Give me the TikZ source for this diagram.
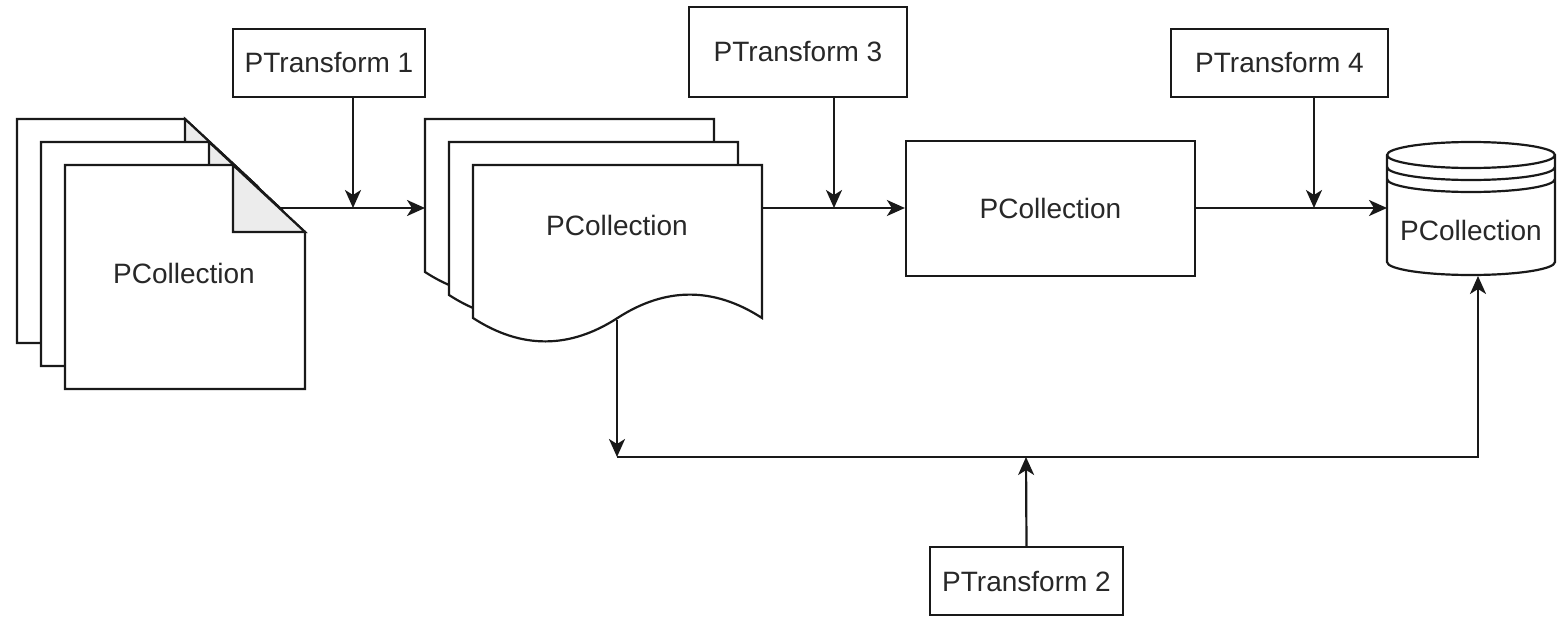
\documentclass[tikz,border=0pt]{standalone}
\usepackage{fontspec}
\setmainfont{Liberation Sans}
\usetikzlibrary{arrows.meta}
\definecolor{ln}{RGB}{25,25,25}
\definecolor{tx}{RGB}{40,40,40}
\definecolor{foldc}{RGB}{236,236,236}
\begin{document}
\begin{tikzpicture}[x=1pt,y=-1pt,
  shp/.style={draw=ln, line width=2.2pt, fill=white, line join=miter},
  lbl/.style={text=tx, font=\fontsize{28}{34}\selectfont, inner sep=0pt},
  tbox/.style={shp, lbl, minimum width=#1, minimum height=68pt},
  conn/.style={draw=ln, line width=2.2pt, -{Stealth[length=18pt,width=16pt,inset=5pt]}},
  plain/.style={draw=ln, line width=2.2pt},
  dogpage/.pic={
    \path[shp] (0,0) -- (168,0) -- (240,67) -- (240,224) -- (0,224) -- cycle;
    \path[shp, fill=foldc] (168,0) -- (168,67) -- (240,67) -- cycle;
  },
  wavepage/.pic={
    \path[shp] (0,0) -- (289,0) -- (289,153)
      .. controls (240.83,121.8) and (192.67,121.8) .. (144.5,153)
      .. controls (96.33,184.2) and (48.17,184.2) .. (0,153) -- cycle;
  }]
\useasboundingbox (0,0) rectangle (1564,616);

% left stack of pages
\pic at (17,119) {dogpage};
\pic at (41,142) {dogpage};
\pic at (65,165) {dogpage};
\node[lbl] (pc1) at (184,273) {PCollection};

% middle stack of wavy documents
\pic at (425,119) {wavepage};
\pic at (449,142) {wavepage};
\pic at (473,165) {wavepage};
\node[lbl] (pc2) at (617,225) {PCollection};

% rectangle
\node[shp, lbl, minimum width=289pt, minimum height=135pt] (pc3) at (1050.5,208.5) {PCollection};

% datastore cylinder
\path[shp] (1387,155) -- (1387,262) arc[start angle=180,end angle=0,x radius=84,y radius=13]
  -- (1555,155) arc[start angle=0,end angle=-180,x radius=84,y radius=13] -- cycle;
\draw[plain] (1387,155) arc[start angle=180,end angle=0,x radius=84,y radius=13];
\draw[plain] (1387,167) arc[start angle=180,end angle=0,x radius=84,y radius=13];
\draw[plain] (1387,179) arc[start angle=180,end angle=0,x radius=84,y radius=13];
\node[lbl] (pc4) at (1471,230) {PCollection};

% transforms
\node[tbox=192pt] (pt1) at (329,63) {PTransform 1};
\node[tbox=218pt, minimum height=90pt] (pt3) at (798,52) {PTransform 3};
\node[tbox=217pt] (pt4) at (1279.5,63) {PTransform 4};
\node[tbox=193pt] (pt2) at (1026.5,581) {PTransform 2};

% anchor points
\coordinate (d1) at (280,208);
\coordinate (s2) at (425,208);
\coordinate (d2r) at (762,208);
\coordinate (d2b) at (617,320);
\coordinate (cyl) at (1387,208);
\coordinate (cylb) at (1478,276);
\coordinate (j1) at (353,208);
\coordinate (j3) at (834,208);
\coordinate (j4) at (1314,208);
\coordinate (bl) at (617,457);
\coordinate (br) at (1478,457);
\coordinate (j2) at (1026,457);

% connectors
\draw[conn] (d1) -- (s2);
\draw[conn] (pt1.south -| j1) -- (j1);
\draw[conn] (d2r) -- (pc3.west |- d2r);
\draw[conn] (pt3.south -| j3) -- (j3);
\draw[conn] (pc3.east |- cyl) -- (cyl);
\draw[conn] (pt4.south -| j4) -- (j4);
\draw[conn] (d2b) -- (bl);
\draw[conn] (bl) -- (br) -- (cylb);
\draw[conn] (pt2.north) -- (j2);
\end{tikzpicture}
\end{document}
